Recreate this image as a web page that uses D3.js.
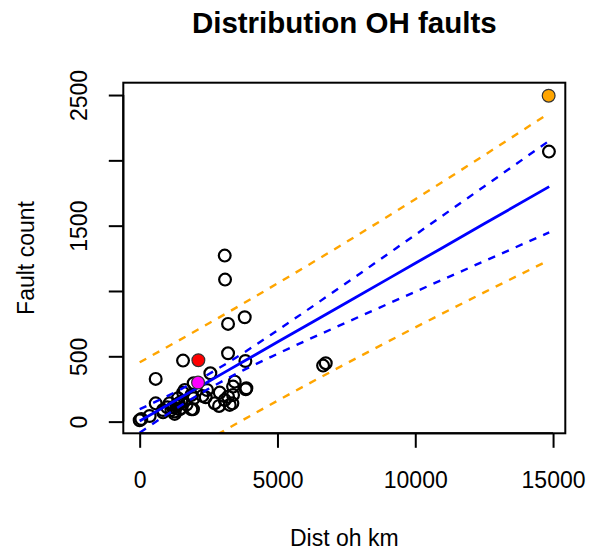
<!DOCTYPE html>
<html>
<head>
<meta charset="utf-8">
<script src="https://cdn.jsdelivr.net/npm/d3@7"></script>
<style>
  html, body { margin: 0; padding: 0; background: #ffffff; }
  svg { display: block; }
  text { font-family: "Liberation Sans", Arial, Helvetica, sans-serif; fill: #000; }
</style>
</head>
<body>
<svg id="chart" width="590" height="558"></svg>
<script>
// ---- data ----
const distOhKm = [0, 60, 363, 581, 581, 847, 847, 1000, 1089, 1150, 1210, 1271, 1271, 1330, 1392, 1391, 1420, 1450, 1512, 1513, 1573, 1573, 1634, 1700, 1876, 1876, 1936, 1960, 1960, 2276, 2396, 2444, 2565, 2723, 2880, 2905, 3086, 3086, 3098, 3207, 3207, 3207, 3267, 3364, 3388, 3388, 3449, 3812, 3836, 3848, 3872, 6655, 6752, 14850];
const faultCount = [10, 20, 43, 140, 327, 89, 71, 110, 141, 90, 110, 59, 77, 120, 128, 179, 140, 95, 153, 103, 222, 467, 243, 130, 94, 204, 95, 179, 294, 197, 186, 242, 370, 141, 120, 222, 166, 1271, 1087, 748, 523, 191, 128, 140, 204, 268, 306, 799, 464, 248, 255, 429, 447, 2067];

// highlighted points
const highlightNames = ["red", "magenta", "orange"];
const highlightX = [2130, 2118, 14840];
const highlightY = [470, 299, 2495];
const highlightColors = ["#ff0000", "#ff00ff", "#ffa500"];

// regression fit and bands
const bandX      = [0,    1250, 2500, 3750, 5000, 7500, 10000, 12500, 14860];
const fitY       = [5,    156,  307,  458,  609,  910,  1212,  1514,  1799];
const confUpper  = [95,   222,  363,  524,  699,  1061, 1430,  1800,  2150];
const confLower  = [-85,  90,   251,  392,  519,  759,  994,   1228,  1448];
const predUpper  = [454,  601,  751,  903,  1058, 1375, 1703,  2039,  2362];
const predLower  = [-444, -289, -137, 13,   160,  445,  721,   989,   1236];

// axis ticks
const xTicks = [0, 5000, 10000, 15000];
const xTickLabels = ["0", "5000", "10000", "15000"];
const yTicks = [0, 500, 1000, 1500, 2000, 2500];
const yTickLabels = ["0", "500", "", "1500", "", "2500"];

const titleText = "Distribution OH faults";
const xLabel = "Dist oh km";
const yLabel = "Fault count";

// ---- layout ----
const box = { left: 123.3, top: 82.7, right: 565.3, bottom: 433.3 };
const svg = d3.select("#chart");

const allX = distOhKm.concat(highlightX);
const allY = faultCount.concat(highlightY);
function padded(ext) { const r = ext[1] - ext[0]; return [ext[0] - 0.04 * r, ext[1] + 0.04 * r]; }
const x = d3.scaleLinear().domain(padded(d3.extent(allX))).range([box.left, box.right]);
const y = d3.scaleLinear().domain(padded(d3.extent(allY))).range([box.bottom, box.top]);

svg.append("defs").append("clipPath").attr("id", "plotclip")
  .append("rect").attr("x", box.left).attr("y", box.top)
  .attr("width", box.right - box.left).attr("height", box.bottom - box.top);

const plot = svg.append("g").attr("clip-path", "url(#plotclip)");

// points (hollow)
const pts = distOhKm.map((d, i) => ({ x: d, y: faultCount[i] }));
plot.selectAll("circle.pt").data(pts).enter().append("circle")
  .attr("class", "pt")
  .attr("cx", d => x(d.x)).attr("cy", d => y(d.y)).attr("r", 5.9)
  .attr("fill", "none").attr("stroke", "#000").attr("stroke-width", 2.2);

// lines
function lineFor(vals) {
  return d3.line().x((d, i) => x(bandX[i])).y(d => y(d)).curve(d3.curveMonotoneX)(vals);
}
const lines = [
  { v: predUpper, c: "#ffa500", dash: "7.5,7.5", w: 2.4 },
  { v: predLower, c: "#ffa500", dash: "7.5,7.5", w: 2.4 },
  { v: confUpper, c: "#0000ff", dash: "7.5,7.5", w: 2.4 },
  { v: confLower, c: "#0000ff", dash: "7.5,7.5", w: 2.4 },
  { v: fitY,      c: "#0000ff", dash: null,  w: 2.8 }
];
lines.forEach(l => {
  plot.append("path").attr("d", lineFor(l.v)).attr("fill", "none")
    .attr("stroke", l.c).attr("stroke-width", l.w)
    .attr("stroke-dasharray", l.dash);
});

// highlighted filled points
const hp = highlightX.map((d, i) => ({ x: d, y: highlightY[i], c: highlightColors[i], n: highlightNames[i] }));
plot.selectAll("circle.hp").data(hp).enter().append("circle")
  .attr("class", "hp")
  .attr("cx", d => x(d.x)).attr("cy", d => y(d.y)).attr("r", 6.4)
  .attr("fill", d => d.c).attr("stroke", "#333").attr("stroke-width", 1.2);

// box
svg.append("rect").attr("x", box.left).attr("y", box.top)
  .attr("width", box.right - box.left).attr("height", box.bottom - box.top)
  .attr("fill", "none").attr("stroke", "#000").attr("stroke-width", 2);

// x axis
const xAxis = d3.axisBottom(x).tickValues(xTicks).tickFormat((d, i) => xTickLabels[i])
  .tickSize(14.5).tickSizeOuter(0).tickPadding(0);
const gx = svg.append("g").attr("transform", `translate(0,${box.bottom})`).call(xAxis);
gx.select(".domain").attr("stroke-width", 2).attr("d", `M${x(xTicks[0])},0H${x(xTicks[xTicks.length-1])}`);
gx.selectAll(".tick line").attr("stroke-width", 2);
gx.selectAll(".tick text").attr("font-size", 23).attr("font-family", "Liberation Sans, Arial, sans-serif")
  .attr("y", 55).attr("dy", null).attr("fill", "#000");

// y axis
const yAxis = d3.axisLeft(y).tickValues(yTicks).tickFormat((d, i) => yTickLabels[i])
  .tickSize(14.5).tickSizeOuter(0).tickPadding(0);
const gy = svg.append("g").attr("transform", `translate(${box.left},0)`).call(yAxis);
gy.select(".domain").attr("stroke-width", 2).attr("d", `M0,${y(yTicks[0])}V${y(yTicks[yTicks.length-1])}`);
gy.selectAll(".tick line").attr("stroke-width", 2);
gy.selectAll(".tick text").attr("font-size", 23).attr("font-family", "Liberation Sans, Arial, sans-serif")
  .attr("x", null).attr("dy", null).attr("text-anchor", "middle")
  .attr("transform", "translate(-36,0) rotate(-90)").attr("fill", "#000");

// titles
const cx = (box.left + box.right) / 2;
svg.append("text").attr("x", cx).attr("y", 33).attr("text-anchor", "middle")
  .attr("font-size", 29.5).attr("font-weight", "bold").text(titleText);
svg.append("text").attr("x", cx).attr("y", 546).attr("text-anchor", "middle")
  .attr("font-size", 23).text(xLabel);
svg.append("text").attr("transform", `translate(34,${(box.top + box.bottom) / 2}) rotate(-90)`)
  .attr("text-anchor", "middle").attr("font-size", 23).text(yLabel);
</script>
</body>
</html>
